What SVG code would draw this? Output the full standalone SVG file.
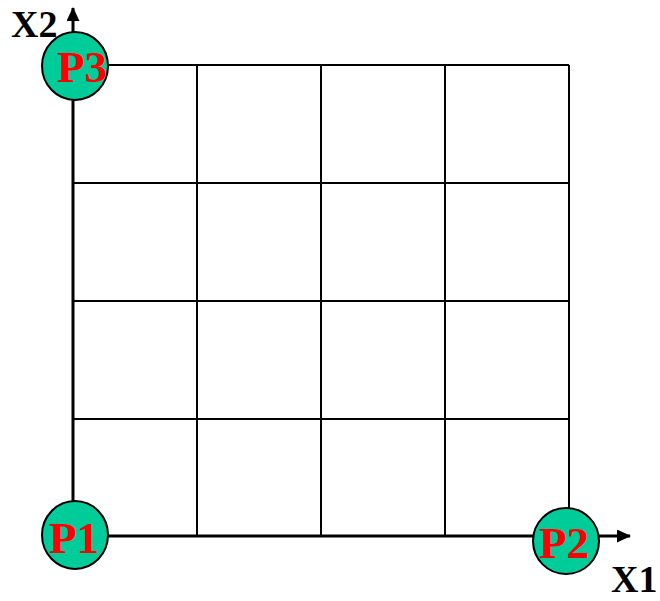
<svg xmlns="http://www.w3.org/2000/svg" width="660" height="601" viewBox="0 0 660 601">
<style>
.g{stroke:#000;stroke-width:2;fill:none}
.ax{stroke:#000;stroke-width:3;fill:none}
.pt{fill:#00cc99;stroke:#000;stroke-width:2}
.pl{font-family:"Liberation Serif",serif;font-weight:bold;font-size:45px;fill:#ff0000;text-anchor:middle}
.al{font-family:"Liberation Serif",serif;font-weight:bold;font-size:38px;fill:#000}
</style>
<defs>
<marker id="ah" markerWidth="14" markerHeight="13" refX="13" refY="6.5" orient="auto" markerUnits="userSpaceOnUse">
<path d="M0,0 L14,6.5 L0,13 z" fill="#000"/>
</marker>
</defs>
<g id="connectors">
<line class="g" x1="73" y1="65" x2="569" y2="65"/>
<line class="g" x1="73" y1="183" x2="569" y2="183"/>
<line class="g" x1="73" y1="301" x2="569" y2="301"/>
<line class="g" x1="73" y1="419" x2="569" y2="419"/>
<line class="g" x1="197" y1="65" x2="197" y2="536"/>
<line class="g" x1="321" y1="65" x2="321" y2="536"/>
<line class="g" x1="445" y1="65" x2="445" y2="536"/>
<line class="g" x1="569" y1="65" x2="569" y2="536"/>
<line class="ax" x1="73" y1="536" x2="630" y2="536" marker-end="url(#ah)"/>
<line class="ax" x1="73" y1="536" x2="73" y2="8" marker-end="url(#ah)"/>
</g>
<g id="X2"><text class="al" x="11" y="37">X2</text></g>
<g id="X1"><text class="al" x="611" y="592">X1</text></g>
<g id="P3"><ellipse class="pt" cx="75" cy="66" rx="33" ry="34"/><text class="pl" x="82" y="82">P3</text></g>
<g id="P1"><ellipse class="pt" cx="75" cy="535" rx="33" ry="34"/><text class="pl" x="74" y="553">P1</text></g>
<g id="P2"><ellipse class="pt" cx="566" cy="541" rx="33" ry="33"/><text class="pl" x="564" y="558">P2</text></g>
</svg>
